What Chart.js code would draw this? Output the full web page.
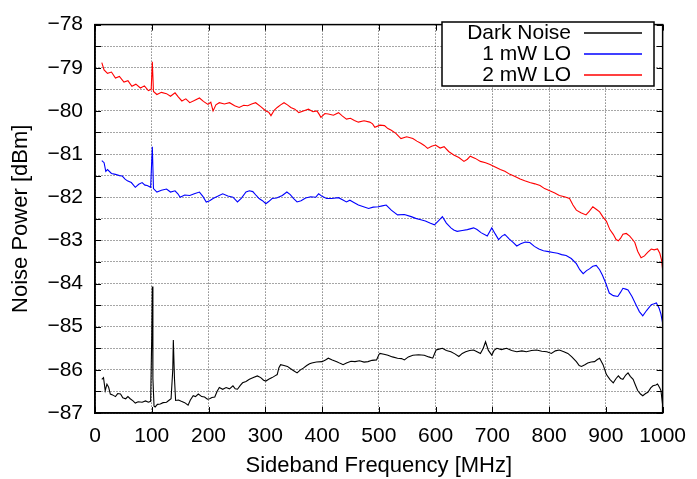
<!DOCTYPE html>
<html>
<head>
<meta charset="utf-8">
<script src="https://cdn.jsdelivr.net/npm/chart.js@4"></script>
<style>
html,body{margin:0;padding:0;background:#fff;}
#wrap{width:697px;height:479px;position:relative;}
</style>
</head>
<body>
<div id="wrap"><canvas id="c" width="697" height="479"></canvas></div>
<script>
// ---- Data ----
const seriesNames = ["Dark Noise", "1 mW LO", "2 mW LO"];
const seriesColors = ["#000000", "#0000ff", "#ff0000"];
const xTicks = [0,100,200,300,400,500,600,700,800,900,1000];
const yTicks = [-87,-86,-85,-84,-83,-82,-81,-80,-79,-78];

const darkFreq = [12,15,18,21,24,27,31,36,40,45,49,54,58,62,67,71,76,83,89,94,98,100,101,102,104,106,110,115,120,126,131,134,137,138,140,142,147,152,158,164,168,173,177,182,188,193,198,202,206,211,215,219,225,231,237,243,247,251,256,260,266,272,279,286,292,297,301,306,312,317,321,324,327,333,339,344,350,356,362,367,373,378,382,390,400,406,411,418,426,432,437,443,451,458,466,474,481,488,496,500,502,509,516,524,533,540,545,552,560,570,580,588,595,599,601,606,612,619,627,634,641,647,653,660,667,673,679,684,688,693,699,703,708,716,725,734,743,752,760,769,778,787,796,804,811,818,826,833,840,848,853,857,863,868,874,880,885,889,895,901,907,913,918,922,926,930,935,939,943,948,952,956,961,965,970,974,979,983,988,991,995,997,1000];
const darkNoise = [-86.22,-86.18,-86.48,-86.33,-86.40,-86.56,-86.58,-86.62,-86.55,-86.56,-86.65,-86.67,-86.62,-86.67,-86.72,-86.77,-86.74,-86.75,-86.72,-86.75,-86.73,-85.2,-84.07,-86.2,-86.84,-86.86,-86.80,-86.79,-86.76,-86.75,-86.70,-86.67,-86.0,-85.31,-86.2,-86.71,-86.70,-86.73,-86.76,-86.82,-86.70,-86.60,-86.62,-86.56,-86.62,-86.63,-86.68,-86.67,-86.64,-86.63,-86.50,-86.41,-86.45,-86.41,-86.44,-86.37,-86.44,-86.45,-86.36,-86.30,-86.27,-86.22,-86.18,-86.14,-86.18,-86.24,-86.26,-86.22,-86.18,-86.14,-86.11,-85.95,-85.88,-85.90,-85.92,-85.97,-86.02,-86.07,-86.00,-85.96,-85.90,-85.86,-85.84,-85.82,-85.81,-85.77,-85.73,-85.77,-85.81,-85.85,-85.88,-85.84,-85.80,-85.81,-85.79,-85.82,-85.81,-85.78,-85.77,-85.65,-85.62,-85.64,-85.66,-85.70,-85.73,-85.74,-85.77,-85.70,-85.66,-85.65,-85.66,-85.70,-85.73,-85.60,-85.54,-85.52,-85.50,-85.55,-85.58,-85.63,-85.69,-85.62,-85.58,-85.55,-85.54,-85.58,-85.62,-85.50,-85.35,-85.55,-85.66,-85.55,-85.50,-85.53,-85.50,-85.55,-85.58,-85.56,-85.58,-85.55,-85.54,-85.57,-85.58,-85.62,-85.56,-85.54,-85.58,-85.62,-85.70,-85.81,-85.90,-85.92,-85.88,-85.84,-85.82,-85.81,-85.76,-85.73,-85.88,-86.11,-86.22,-86.30,-86.20,-86.14,-86.20,-86.22,-86.12,-86.07,-86.15,-86.22,-86.35,-86.48,-86.56,-86.60,-86.55,-86.52,-86.42,-86.37,-86.35,-86.33,-86.42,-86.48,-86.82];

const lo1Freq = [12,16,19,22,29,36,43,48,53,57,64,71,77,83,88,92,98,101,103,109,117,126,133,141,146,150,158,167,175,184,190,196,202,208,216,225,234,243,251,258,266,272,278,284,289,295,301,306,312,320,330,338,344,350,356,363,371,380,389,394,400,408,417,429,436,443,449,456,464,473,482,490,499,506,513,522,533,545,557,565,574,582,590,598,605,612,619,627,632,638,647,656,667,673,680,691,699,705,711,717,722,730,737,743,750,758,766,774,782,790,799,807,815,822,830,839,848,854,860,866,871,877,883,889,894,900,906,913,921,926,930,935,939,946,953,959,965,972,980,985,989,994,997,1000];
const lo1mW = [-81.15,-81.20,-81.40,-81.36,-81.45,-81.47,-81.50,-81.51,-81.58,-81.62,-81.66,-81.77,-81.70,-81.66,-81.72,-81.73,-81.77,-80.83,-81.80,-81.88,-81.84,-81.81,-81.88,-81.85,-81.92,-82.00,-81.95,-81.96,-81.92,-81.88,-81.98,-82.11,-82.08,-82.03,-81.98,-81.92,-81.97,-82.00,-82.11,-82.02,-81.88,-81.85,-81.87,-81.96,-82.03,-82.08,-82.15,-82.10,-82.03,-82.02,-81.96,-81.88,-81.94,-82.03,-82.11,-82.08,-82.02,-81.99,-82.00,-81.92,-81.98,-82.03,-82.03,-82.01,-82.06,-82.11,-82.07,-82.12,-82.18,-82.22,-82.26,-82.23,-82.22,-82.20,-82.18,-82.30,-82.41,-82.40,-82.45,-82.49,-82.52,-82.55,-82.60,-82.64,-82.55,-82.45,-82.60,-82.71,-82.76,-82.79,-82.77,-82.75,-82.71,-82.75,-82.82,-82.90,-82.71,-82.85,-82.98,-82.90,-82.86,-82.97,-83.05,-83.13,-83.08,-83.04,-83.05,-83.14,-83.20,-83.24,-83.26,-83.28,-83.30,-83.33,-83.35,-83.42,-83.54,-83.68,-83.77,-83.70,-83.66,-83.60,-83.58,-83.68,-83.81,-84.00,-84.22,-84.28,-84.30,-84.20,-84.11,-84.13,-84.15,-84.30,-84.49,-84.65,-84.75,-84.62,-84.49,-84.47,-84.45,-84.58,-84.71,-84.92];

const lo2Freq = [12,16,22,29,36,43,51,58,65,72,80,87,94,99,101,103,109,117,126,133,141,147,153,160,167,175,184,191,199,204,208,213,219,228,237,246,254,262,269,276,283,292,301,306,310,316,321,327,333,339,345,352,359,367,376,384,391,395,398,405,411,420,429,436,443,450,457,464,474,484,489,493,502,510,516,522,530,539,549,560,567,574,580,586,593,600,608,615,623,632,641,650,656,661,670,679,688,696,705,714,722,731,740,749,757,766,775,784,792,801,810,818,827,836,842,848,856,865,871,877,883,889,895,901,907,913,918,922,926,930,936,942,947,951,956,962,968,974,980,985,991,995,998,1000];
const lo2mW = [-78.88,-79.05,-79.13,-79.10,-79.24,-79.20,-79.33,-79.30,-79.43,-79.38,-79.47,-79.42,-79.53,-79.50,-78.86,-79.55,-79.62,-79.57,-79.60,-79.66,-79.58,-79.68,-79.77,-79.72,-79.81,-79.76,-79.70,-79.78,-79.85,-79.80,-80.00,-79.86,-79.81,-79.84,-79.81,-79.88,-79.92,-79.87,-79.88,-79.84,-79.81,-79.90,-80.00,-80.03,-80.11,-79.98,-79.92,-79.86,-79.81,-79.86,-79.92,-79.96,-80.04,-80.00,-79.96,-80.02,-80.00,-80.08,-80.15,-80.06,-80.07,-80.10,-80.04,-80.12,-80.19,-80.17,-80.22,-80.26,-80.23,-80.26,-80.30,-80.38,-80.33,-80.34,-80.41,-80.45,-80.52,-80.64,-80.60,-80.64,-80.70,-80.75,-80.80,-80.87,-80.82,-80.79,-80.86,-80.83,-80.94,-81.02,-81.08,-81.17,-81.12,-81.05,-81.10,-81.17,-81.20,-81.24,-81.30,-81.36,-81.40,-81.47,-81.52,-81.58,-81.62,-81.66,-81.69,-81.73,-81.80,-81.85,-81.90,-81.96,-81.99,-82.03,-82.18,-82.30,-82.36,-82.41,-82.32,-82.22,-82.28,-82.34,-82.46,-82.56,-82.75,-82.86,-82.98,-83.01,-82.95,-82.86,-82.84,-82.90,-82.98,-83.05,-83.25,-83.40,-83.36,-83.27,-83.20,-83.22,-83.20,-83.30,-83.45,-83.68];

// ---- Build ----
function pts(fx, vy){ return fx.map((f,i)=>({x:f, y:vy[i]})); }
const FONT = "'Liberation Sans', Arial, Helvetica, sans-serif";
const seriesData = [pts(darkFreq, darkNoise), pts(lo1Freq, lo1mW), pts(lo2Freq, lo2mW)];

const frameLegend = {
  id: 'frameLegend',
  afterDraw(chart){
    const ctx = chart.ctx, a = chart.chartArea;
    const xs = chart.scales.x, ys = chart.scales.y;
    ctx.save();
    ctx.setLineDash([]);
    // inner tick marks (all four sides)
    ctx.strokeStyle = '#000'; ctx.lineWidth = 1;
    ctx.beginPath();
    xTicks.forEach(v => {
      const px = Math.round(xs.getPixelForValue(v)) + 0.5;
      ctx.moveTo(px, a.bottom); ctx.lineTo(px, a.bottom - 6);
      ctx.moveTo(px, a.top); ctx.lineTo(px, a.top + 6);
    });
    for (let v = -87; v <= -78; v += 0.5){
      const py = Math.round(ys.getPixelForValue(v)) + 0.5;
      ctx.moveTo(a.left, py); ctx.lineTo(a.left + 6, py);
      ctx.moveTo(a.right, py); ctx.lineTo(a.right - 6, py);
    }
    ctx.stroke();
    // frame
    ctx.lineWidth = 1.5;
    ctx.strokeRect(a.left, a.top, a.right - a.left, a.bottom - a.top);
    // legend box
    const bx = 442, by = 22, bw = 212, bh = 64;
    ctx.fillStyle = '#ffffff';
    ctx.fillRect(bx, by, bw, bh);
    ctx.strokeStyle = '#000000';
    ctx.lineWidth = 1.5;
    ctx.strokeRect(bx, by, bw, bh);
    ctx.font = '21px ' + FONT;
    ctx.textAlign = 'right'; ctx.textBaseline = 'middle';
    const rows = [33, 54, 75];
    for (let i = 0; i < seriesNames.length; i++){
      ctx.fillStyle = '#000000';
      ctx.fillText(seriesNames[i], 571, rows[i] + 0.5);
    }
    ctx.lineWidth = 1.4;
    for (let i = 0; i < seriesNames.length; i++){
      ctx.strokeStyle = seriesColors[i];
      ctx.beginPath(); ctx.moveTo(584, rows[i]); ctx.lineTo(642, rows[i]); ctx.stroke();
    }
    ctx.restore();
  }
};

new Chart(document.getElementById('c'), {
  type: 'line',
  data: {
    datasets: seriesNames.map((n, i) => ({
      label: n,
      data: seriesData[i],
      borderColor: seriesColors[i],
      borderWidth: 1.1,
      pointRadius: 0,
      tension: 0,
      fill: false
    }))
  },
  options: {
    responsive: false,
    animation: false,
    layout: { padding: { top: 15, right: 30, left: 0, bottom: 0 } },
    plugins: { legend: { display: false }, tooltip: { enabled: false } },
    scales: {
      x: {
        type: 'linear', min: 0, max: 1000,
        afterBuildTicks(s){ s.ticks = xTicks.map(v => ({value: v})); },
        afterFit(s){ s.height = 66; },
        grid: { color: 'rgba(0,0,0,0.7)', lineWidth: 1, drawTicks: false, tickLength: 0 },
        border: { display: true, color: '#000', width: 1.5, dash: [1,2] },
        ticks: { color: '#000', font: { size: 21, family: FONT }, padding: 11, maxRotation: 0, autoSkip: false,
                 callback: v => String(v) },
        title: { display: true, text: 'Sideband Frequency [MHz]', color: '#000', font: { size: 22, family: FONT }, padding: { top: 2, bottom: 0 } }
      },
      y: {
        type: 'linear', min: -87, max: -78,
        ticks: {
          stepSize: 0.5, color: '#000', font: { size: 21, family: FONT }, padding: 12, autoSkip: false,
          callback: v => (Number.isInteger(v) && yTicks.includes(v)) ? '\u2212' + Math.abs(v) : ''
        },
        afterFit(s){ s.width = 95; },
        grid: { color: 'rgba(0,0,0,0.7)', lineWidth: 1, drawTicks: false, tickLength: 0 },
        border: { display: true, color: '#000', width: 1.5, dash: [1,2] },
        title: { display: true, text: 'Noise Power [dBm]', color: '#000', font: { size: 22, family: FONT }, padding: { top: 8, bottom: 4 } }
      }
    }
  },
  plugins: [frameLegend]
});
</script>
</body>
</html>
